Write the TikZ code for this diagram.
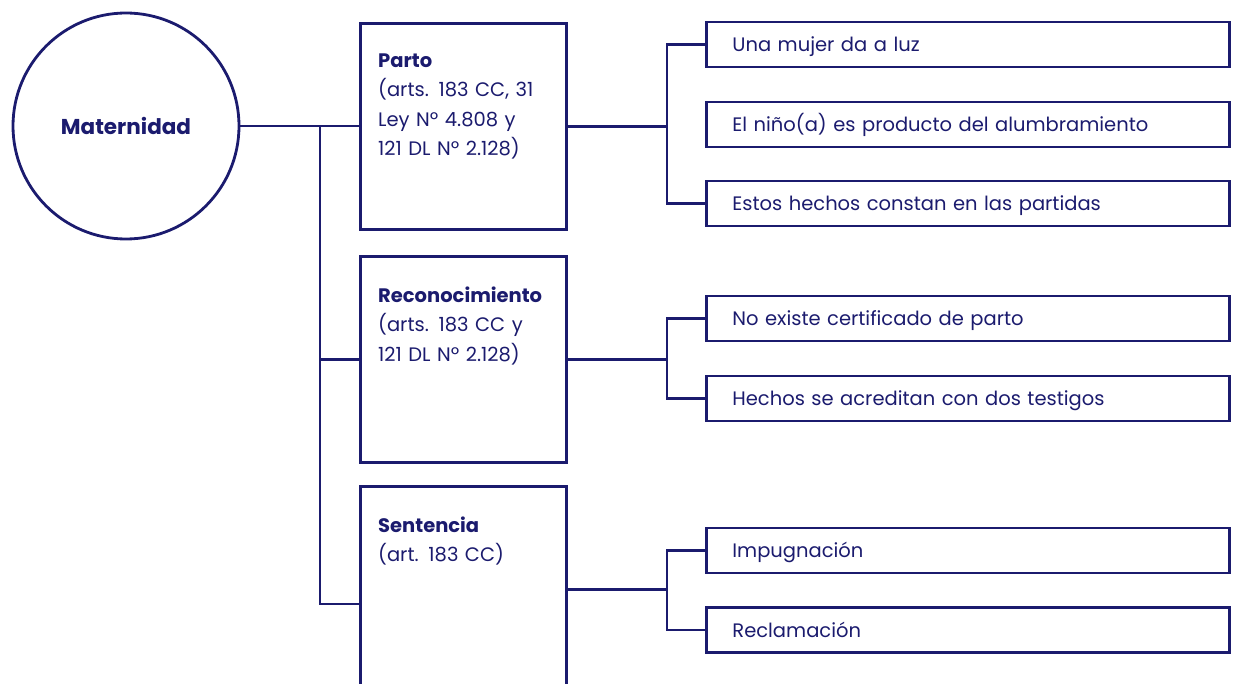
\documentclass[tikz,border=0pt]{standalone}
\usepackage{fontspec}
\setmainfont{Poppins}
\usepackage{tikz}
\usetikzlibrary{positioning}
\definecolor{navy}{HTML}{1B1B6E}
\tikzset{
    linea/.style={draw=navy, line width=2.8pt},
    caja/.style={draw=navy, line width=2.8pt, minimum width=206pt, minimum height=206pt, anchor=north west},
    texto/.style={text=navy, inner sep=0pt, text width=190pt, align=left, font=\fontsize{19.5}{29.5}\selectfont},
    hecho/.style={draw=navy, line width=2.8pt, minimum width=523pt, minimum height=45pt, anchor=west,
        text=navy, inner xsep=26pt, inner ysep=0pt, text width=471pt, align=left,
        text height=16pt, text depth=2pt, font=\fontsize{19.5}{22}\selectfont}
}

\begin{document}
\begin{tikzpicture}[x=1pt, y=-1pt]

            \clip (0,0) rectangle (1238,684);

            \node[shape=circle, draw=navy, line width=2.8pt, minimum size=226pt, text=navy, font=\fontsize{21.5}{24}\selectfont\bfseries] (mat) at (126,126) {Maternidad};

            \node[caja] (parto) at (359,22) {};
            \node[caja] (recon) at (359,255) {};
            \node[caja] (sent) at (359,485) {};

            \node[texto, below right=31.5pt and 19pt of parto.north west] (parto-t) {\textbf{Parto}\\(arts. 183 CC, 31\\Ley Nº 4.808 y\\121 DL Nº 2.128)};
            \node[texto, below right=31.5pt and 19pt of recon.north west] (recon-t) {\textbf{Reconocimiento}\\(arts. 183 CC y\\121 DL Nº 2.128)};
            \node[texto, below right=31.5pt and 19pt of sent.north west] (sent-t) {\textbf{Sentencia}\\(art. 183 CC)};

            \node[hecho] (h1) at (705,44.5) {Una mujer da a luz};
            \node[hecho] (h2) at (705,124.5) {El niño(a) es producto del alumbramiento};
            \node[hecho] (h3) at (705,203.5) {Estos hechos constan en las partidas};
            \node[hecho] (h4) at (705,318.5) {No existe certificado de parto};
            \node[hecho] (h5) at (705,398.5) {Hechos se acreditan con dos testigos};
            \node[hecho] (h6) at (705,550.5) {Impugnación};
            \node[hecho] (h7) at (705,630) {Reclamación};

            \coordinate (t1) at (320,126);
            \coordinate (t3) at (320,604);
            \coordinate (p1) at (667,125);
            \coordinate (p2) at (667,358);
            \coordinate (p3) at (667,588);

            % tronco de la izquierda
            \draw[linea] (mat.east) -- (mat.east -| parto.west);
            \draw[linea] (t1) -- (t3) -- (t3 -| sent.west);
            \draw[linea] (t1 |- recon.west) -- (recon.west);

            % ramas de la derecha
            \draw[linea] (parto.east) -- (parto.east -| p1);
            \draw[linea] (h1.west) -| (h3.west -| p1) -- (h3.west);
            \draw[linea] (recon.east) -- (recon.east -| p2);
            \draw[linea] (h4.west) -| (h5.west -| p2) -- (h5.west);
            \draw[linea] (sent.east) -- (sent.east -| p3);
            \draw[linea] (h6.west) -| (h7.west -| p3) -- (h7.west);

        \end{tikzpicture}
\end{document}
